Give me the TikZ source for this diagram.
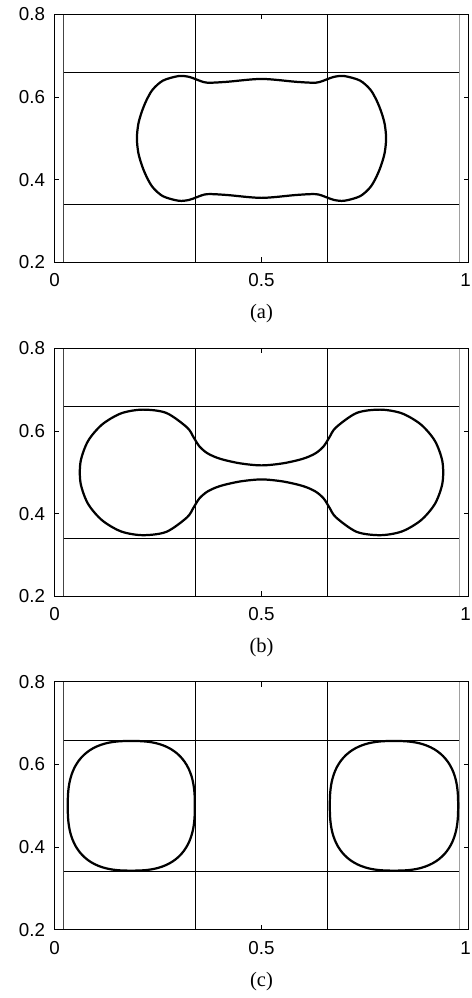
\documentclass[tikz,border=0pt]{standalone}
\usepackage{fontspec}
\setmainfont{Liberation Serif}
\setsansfont{Liberation Sans}
\usepackage{tikz}
\usetikzlibrary{positioning}
\definecolor{GuideGray}{HTML}{444444}
\definecolor{EdgeGray}{HTML}{A0A0A0}

\begin{document}
\begin{tikzpicture}[
  panel/.style={shift={(1.635,#1)},x=12.42cm,y=12.39cm},
  frame/.style={draw=black,line width=0.9pt},
  guide/.style={draw=black,line width=0.5pt},
  contour/.style={draw=black,line width=1.9pt,line join=round},
  ticklab/.style={font=\sffamily\fontsize{16}{18}\selectfont,inner sep=0pt},
  caption/.style={font=\fontsize{17.5}{20}\selectfont,inner sep=0pt},
]
\useasboundingbox (0,0) rectangle (14.13,-29.94);

% frames, guide lines, ticks and labels of the three panels
\foreach \p/\dy in {a/-10.347,b/-20.367,c/-30.369}{
  \begin{scope}[panel=\dy]
    \draw[guide,draw=GuideGray,line width=0.7pt] (0.022,0.2) -- (0.022,0.8);
    \draw[guide,draw=EdgeGray] (0.977,0.2) -- (0.977,0.8);
    \draw[guide] (0.341,0.2) -- (0.341,0.8) (0.659,0.2) -- (0.659,0.8);
    \draw[guide] (0.022,0.341) -- (0.977,0.341) (0.022,0.659) -- (0.977,0.659);
    \draw[frame] (0,0.2) rectangle (1,0.8);
    \draw[guide] (0.5,0.2) -- ++(0,0.012) (0.5,0.8) -- ++(0,-0.012);
    \foreach \v in {0.4,0.6}
      \draw[guide] (0,\v) -- ++(0.012,0) (1,\v) -- ++(-0.012,0);
    \foreach \v/\n in {0.2/2,0.4/4,0.6/6,0.8/8}
      \node[ticklab,anchor=east,xshift=-0.28cm] (y\p\n) at (0,\v) {\v};
    \foreach \u/\t/\n in {0/0/0,0.5/0.5/5,0.993/1/10}
      \node[ticklab,yshift=-0.54cm] (x\p\n) at (\u,0.2) {\t};
    \node[caption,yshift=-1.545cm] (cap\p) at (0.5,0.2) {(\p)};
  \end{scope}
}

% (a) one drop
\begin{scope}[panel=-10.347]
  \draw[contour] plot[smooth cycle] coordinates {
    (0.199,0.5) (0.2025,0.535) (0.211,0.565) (0.222,0.592) (0.237,0.618)
    (0.262,0.64) (0.3,0.651) (0.325,0.649) (0.342,0.643) (0.368,0.635)
    (0.416,0.637) (0.5,0.644) (0.584,0.637) (0.632,0.635) (0.658,0.643)
    (0.675,0.649) (0.7,0.651) (0.738,0.64) (0.763,0.618) (0.778,0.592)
    (0.789,0.565) (0.7975,0.535) (0.801,0.5) (0.7975,0.465) (0.789,0.435)
    (0.778,0.408) (0.763,0.382) (0.738,0.36) (0.7,0.349) (0.675,0.351)
    (0.658,0.357) (0.632,0.365) (0.584,0.363) (0.5,0.356) (0.416,0.363)
    (0.368,0.365) (0.342,0.357) (0.325,0.351) (0.3,0.349) (0.262,0.36)
    (0.237,0.382) (0.222,0.408) (0.211,0.435) (0.2025,0.465)};
\end{scope}

% (b) necking drop
\begin{scope}[panel=-20.367]
  \draw[contour] plot[smooth cycle] coordinates {
    (0.5,0.517) (0.448,0.522) (0.40,0.533) (0.37,0.546) (0.35,0.563)
    (0.336,0.585) (0.32,0.609) (0.27,0.644) (0.213,0.652) (0.161,0.643)
    (0.115,0.616) (0.081,0.576) (0.063,0.526) (0.063,0.474) (0.081,0.424)
    (0.115,0.384) (0.161,0.357) (0.213,0.348) (0.27,0.356) (0.32,0.391)
    (0.336,0.415) (0.35,0.437) (0.37,0.454) (0.40,0.467) (0.448,0.478)
    (0.5,0.483) (0.552,0.478) (0.60,0.467) (0.63,0.454) (0.65,0.437)
    (0.664,0.415) (0.68,0.391) (0.73,0.356) (0.787,0.348) (0.839,0.357)
    (0.885,0.384) (0.919,0.424) (0.937,0.474) (0.937,0.526) (0.919,0.576)
    (0.885,0.616) (0.839,0.643) (0.787,0.652) (0.73,0.644) (0.68,0.609)
    (0.664,0.585) (0.65,0.563) (0.63,0.546) (0.60,0.533) (0.552,0.522)};
\end{scope}

% (c) two drops
\begin{scope}[panel=-30.369]
  \foreach \cx/\a in {0.1855/0.1535,0.82/0.155}
    \draw[contour] plot[domain=1:357,samples=90,smooth cycle,variable=\t]
      ({\cx+\a*cos(\t)*abs(cos(\t))^(-0.23)},{0.5+0.157*sin(\t)*abs(sin(\t))^(-0.23)});
\end{scope}
\end{tikzpicture}
\end{document}
